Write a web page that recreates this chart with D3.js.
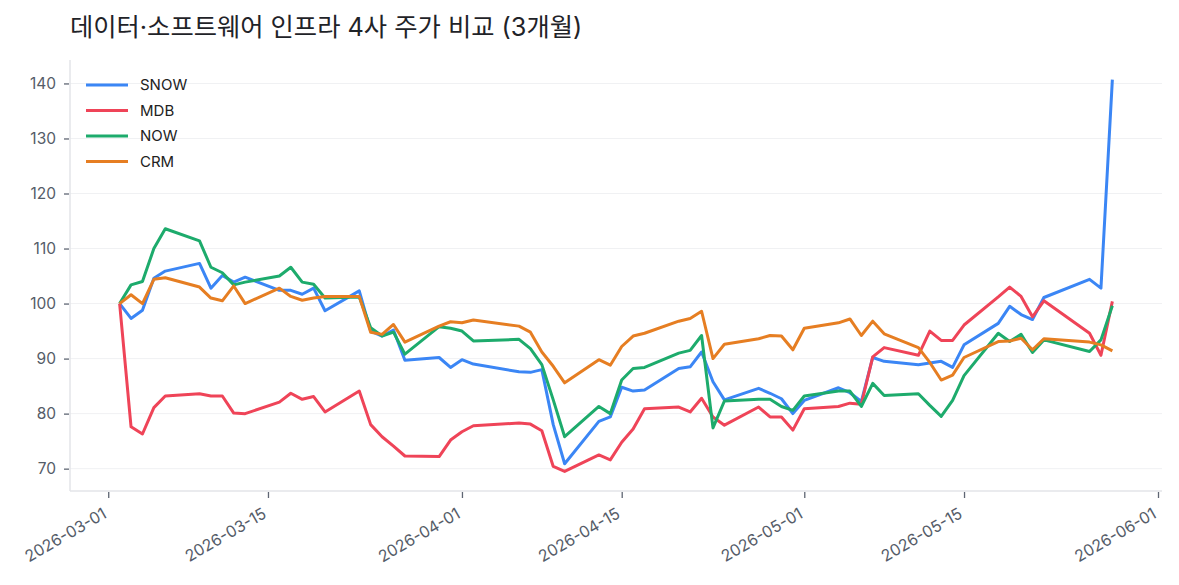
<!DOCTYPE html>
<html>
<head>
<meta charset="utf-8">
<script src="https://cdn.jsdelivr.net/npm/d3@7"></script>
<style>
  body { margin: 0; background: #fff; }
  svg { font-family: Inter, "Noto Sans CJK KR", sans-serif; }
</style>
</head>
<body>
<script>
//trading days, 2026-03-02 .. 2026-05-28
var dates = [
  "2026-03-02","2026-03-03","2026-03-04","2026-03-05","2026-03-06",
  "2026-03-09","2026-03-10","2026-03-11","2026-03-12","2026-03-13",
  "2026-03-16","2026-03-17","2026-03-18","2026-03-19","2026-03-20",
  "2026-03-23","2026-03-24","2026-03-25","2026-03-26","2026-03-27",
  "2026-03-30","2026-03-31","2026-04-01","2026-04-02",
  "2026-04-06","2026-04-07","2026-04-08","2026-04-09","2026-04-10",
  "2026-04-13","2026-04-14","2026-04-15","2026-04-16","2026-04-17",
  "2026-04-20","2026-04-21","2026-04-22","2026-04-23","2026-04-24",
  "2026-04-27","2026-04-28","2026-04-29","2026-04-30","2026-05-01",
  "2026-05-04","2026-05-05","2026-05-06","2026-05-07","2026-05-08",
  "2026-05-11","2026-05-12","2026-05-13","2026-05-14","2026-05-15",
  "2026-05-18","2026-05-19","2026-05-20","2026-05-21","2026-05-22",
  "2026-05-26","2026-05-27","2026-05-28"
];

//normalized prices (first day = 100)
var snow = [100.0, 97.3, 98.8, 104.6, 105.9, 107.3, 102.8, 105.1, 103.9, 104.8,
  102.4, 102.4, 101.7, 102.8, 98.7, 102.3, 95.0, 94.1, 95.2, 89.7,
  90.2, 88.4, 89.8, 89.0, 87.6, 87.5, 88.0, 78.0, 70.9,
  78.6, 79.4, 84.8, 84.1, 84.3, 88.2, 88.5, 91.2, 85.8, 82.5,
  84.6, 83.7, 82.7, 80.0, 82.4, 84.7, 83.8, 82.2, 90.2, 89.5,
  88.9, 89.2, 89.5, 88.4, 92.5, 96.4, 99.5, 98.0, 97.1, 101.1,
  104.4, 102.8, 140.7];
var mdb = [100.0, 77.6, 76.3, 81.1, 83.2, 83.6, 83.2, 83.2, 80.1, 80.0,
  82.1, 83.7, 82.6, 83.1, 80.3, 84.1, 78.0, 75.8, 74.1, 72.3,
  72.2, 75.2, 76.7, 77.8, 78.3, 78.1, 76.9, 70.4, 69.5,
  72.5, 71.6, 74.8, 77.2, 80.9, 81.2, 80.3, 82.8, 79.4, 77.9,
  81.2, 79.4, 79.4, 77.0, 80.9, 81.3, 81.9, 81.7, 90.3, 92.0,
  90.6, 95.0, 93.3, 93.3, 96.1, 101.2, 103.0, 101.3, 97.6, 100.5,
  94.6, 90.6, 100.4];
var now = [100.0, 103.4, 104.0, 110.0, 113.6, 111.4, 106.6, 105.6, 103.4, 103.9,
  105.0, 106.6, 103.9, 103.5, 101.0, 101.2, 95.6, 94.1, 94.8, 90.8,
  95.8, 95.5, 95.0, 93.2, 93.5, 91.8, 88.9, 82.5, 75.8,
  81.3, 80.0, 86.1, 88.2, 88.4, 91.0, 91.5, 94.2, 77.4, 82.3,
  82.6, 82.6, 81.3, 80.6, 83.2, 84.1, 84.1, 81.3, 85.5, 83.3,
  83.6, 81.5, 79.5, 82.4, 86.9, 94.6, 93.1, 94.4, 91.1, 93.4,
  91.3, 93.4, 99.6];
var crm = [100.0, 101.6, 100.0, 104.4, 104.7, 103.0, 101.0, 100.5, 103.2, 100.0,
  102.8, 101.3, 100.6, 101.0, 101.3, 101.3, 94.8, 94.4, 96.2, 93.0,
  95.9, 96.7, 96.5, 97.0, 95.9, 94.8, 91.2, 88.6, 85.6,
  89.8, 88.8, 92.2, 94.1, 94.6, 96.8, 97.3, 98.6, 90.0, 92.6,
  93.6, 94.2, 94.1, 91.6, 95.5, 96.5, 97.2, 94.2, 96.8, 94.5,
  92.0, 89.3, 86.1, 87.0, 90.2, 93.1, 93.2, 93.7, 91.6, 93.6,
  93.0, 92.5, 91.4];

var tickers = ["SNOW", "MDB", "NOW", "CRM"];
var colors = ["#3b86f5", "#ef4458", "#1dab6c", "#e67e22"];
var yTicks = [70, 80, 90, 100, 110, 120, 130, 140];
var xTicks = ["2026-03-01", "2026-03-15", "2026-04-01", "2026-04-15", "2026-05-01", "2026-05-15", "2026-06-01"];

drawChart();

function drawChart(){

    var width = 1179,
        height = 585;
    var left = 70, right = 1162, top = 60, bottom = 491;

    var svg = d3.select("body")
        .append("svg")
        .attr("width", width)
        .attr("height", height);

    var parse = d3.utcParse("%Y-%m-%d");
    var days = dates.map(parse);
    var seriesList = [snow, mdb, now, crm];

    //5% padding like the original
    var t0 = days[0].getTime(), t1 = days[days.length - 1].getTime();
    var padT = (t1 - t0) * 0.05;
    var x = d3.scaleUtc()
        .domain([new Date(t0 - padT), new Date(t1 + padT)])
        .range([left, right]);

    var all = d3.merge(seriesList);
    var lo = d3.min(all), hi = d3.max(all), padV = (hi - lo) * 0.05;
    var y = d3.scaleLinear()
        .domain([lo - padV, hi + padV])
        .range([bottom, top]);

    //title
    svg.append("text")
        .attr("x", left)
        .attr("y", 36)
        .attr("font-size", 25.3)
        .attr("fill", "#1f2328")
        .text("데이터·소프트웨어 인프라 4사 주가 비교 (3개월)");

    //grid
    svg.append("g")
        .selectAll("line")
        .data(yTicks)
        .join("line")
        .attr("x1", left)
        .attr("x2", right)
        .attr("y1", d => y(d))
        .attr("y2", d => y(d))
        .attr("stroke", "#f0f1f3")
        .attr("stroke-width", 1);

    //y axis
    var yAxis = svg.append("g")
        .attr("transform", "translate(" + (left - 1) + ",0)")
        .call(d3.axisLeft(y).tickValues(yTicks).tickSize(5).tickPadding(8));
    yAxis.select(".domain").remove();
    yAxis.selectAll(".tick line").attr("stroke", "#5f6673").attr("stroke-width", 1.3);
    yAxis.selectAll(".tick text")
        .attr("font-family", "Inter, 'Noto Sans CJK KR', sans-serif")
        .attr("font-size", 15.5)
        .attr("fill", "#555c68");

    //x axis
    var xAxis = svg.append("g")
        .attr("transform", "translate(0," + (bottom + 1) + ")")
        .call(d3.axisBottom(x).tickValues(xTicks.map(parse)).tickSize(6).tickFormat(d3.utcFormat("%Y-%m-%d")));
    xAxis.select(".domain").remove();
    xAxis.selectAll(".tick line").attr("stroke", "#5f6673").attr("stroke-width", 1.3);
    xAxis.selectAll(".tick text")
        .attr("font-family", "Inter, 'Noto Sans CJK KR', sans-serif")
        .attr("font-size", 16)
        .attr("fill", "#555c68")
        .attr("text-anchor", "end")
        .attr("y", 0)
        .attr("dy", 0)
        .attr("transform", "translate(-1,25) rotate(-30)");

    //spines
    svg.append("line")
        .attr("x1", left).attr("x2", left)
        .attr("y1", top).attr("y2", bottom)
        .attr("stroke", "#e3e5e9").attr("stroke-width", 1.5);
    svg.append("line")
        .attr("x1", left).attr("x2", right)
        .attr("y1", bottom).attr("y2", bottom)
        .attr("stroke", "#e3e5e9").attr("stroke-width", 1.5);

    //lines
    var line = d3.line()
        .x((d, i) => x(days[i]))
        .y(d => y(d));

    svg.append("g")
        .selectAll("path")
        .data(seriesList)
        .join("path")
        .attr("d", line)
        .attr("fill", "none")
        .attr("stroke", (d, i) => colors[i])
        .attr("stroke-width", 3)
        .attr("stroke-linejoin", "round");

    //legend
    var legend = svg.append("g")
        .selectAll("g")
        .data(tickers)
        .join("g")
        .attr("transform", (d, i) => "translate(86," + (85 + i * 25.5) + ")");
    legend.append("line")
        .attr("x1", 0).attr("x2", 42)
        .attr("stroke", (d, i) => colors[i])
        .attr("stroke-width", 3.2);
    legend.append("text")
        .attr("x", 54)
        .attr("dy", "0.36em")
        .attr("font-size", 15)
        .attr("fill", "#222")
        .text(d => d);
}
</script>
</body>
</html>
